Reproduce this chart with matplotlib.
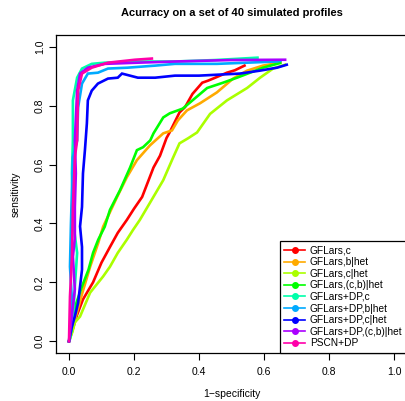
import numpy as np
from matplotlib import pyplot as plt

plt.rcParams['font.family'] = ['Liberation Sans', 'DejaVu Sans']

names = ['GFLars,c', 'GFLars,b|het', 'GFLars,c|het', 'GFLars,(c,b)|het',
         'GFLars+DP,c', 'GFLars+DP,b|het', 'GFLars+DP,c|het',
         'GFLars+DP,(c,b)|het', 'PSCN+DP']
colors = ['#FF0000', '#FFAA00', '#AAFF00', '#00FF00', '#00FFAA',
          '#00AAFF', '#0000FF', '#AA00FF', '#FF00AA']

# 1-specificity / sensitivity
red_x = [0, 0.01, 0.025, 0.043, 0.074, 0.10, 0.126, 0.15, 0.178, 0.20, 0.225, 0.26,
         0.28, 0.30, 0.31, 0.34, 0.357, 0.38, 0.41, 0.428, 0.45, 0.486, 0.51, 0.54]
red_y = [0, 0.035, 0.09, 0.142, 0.2, 0.267, 0.32, 0.368, 0.412, 0.45, 0.49, 0.59,
         0.63, 0.69, 0.71, 0.777, 0.795, 0.84, 0.878, 0.885, 0.895, 0.912, 0.92, 0.936]

orange_x = [0, 0.01, 0.02, 0.04, 0.065, 0.09, 0.105, 0.148, 0.178, 0.209, 0.249, 0.29,
            0.317, 0.335, 0.363, 0.403, 0.455, 0.505, 0.548, 0.597, 0.628, 0.65]
orange_y = [0, 0.04, 0.08, 0.16, 0.253, 0.334, 0.389, 0.49, 0.557, 0.615, 0.665, 0.706,
            0.716, 0.75, 0.784, 0.808, 0.845, 0.892, 0.919, 0.936, 0.942, 0.948]

lime_x = [0, 0.01, 0.018, 0.034, 0.065, 0.105, 0.126, 0.15, 0.178, 0.197, 0.218, 0.249,
          0.29, 0.32, 0.34, 0.366, 0.394, 0.434, 0.486, 0.548, 0.588, 0.628, 0.665]
lime_y = [0, 0.03, 0.064, 0.084, 0.165, 0.22, 0.253, 0.30, 0.345, 0.378, 0.412, 0.47,
          0.547, 0.623, 0.672, 0.689, 0.709, 0.772, 0.818, 0.86, 0.895, 0.926, 0.939]

green_x = [0, 0.008, 0.018, 0.04, 0.06, 0.074, 0.09, 0.11, 0.126, 0.157, 0.188, 0.209,
           0.228, 0.25, 0.26, 0.29, 0.31, 0.35, 0.38, 0.425, 0.474, 0.517, 0.557,
           0.597, 0.64, 0.65]
green_y = [0, 0.04, 0.115, 0.186, 0.243, 0.30, 0.345, 0.389, 0.446, 0.513, 0.59, 0.649,
           0.659, 0.682, 0.706, 0.76, 0.774, 0.79, 0.818, 0.86, 0.878, 0.895, 0.912,
           0.929, 0.942, 0.945]

aqua_x = [0, 0.003, 0.012, 0.018, 0.025, 0.018, 0.012, 0.012, 0.009, 0.012, 0.012,
          0.025, 0.04, 0.07, 0.11, 0.212, 0.326, 0.45, 0.58]
aqua_y = [0, 0.007, 0.074, 0.186, 0.30, 0.36, 0.42, 0.456, 0.57, 0.682, 0.818,
          0.895, 0.926, 0.942, 0.946, 0.95, 0.95, 0.955, 0.963]

sky_x = [0, 0.004, 0.009, 0.003, 0.006, 0.009, 0.012, 0.025, 0.028, 0.04, 0.058,
         0.089, 0.12, 0.18, 0.265, 0.326, 0.455, 0.64, 0.65]
sky_y = [0, 0.05, 0.142, 0.253, 0.40, 0.513, 0.625, 0.682, 0.794, 0.875, 0.909,
         0.912, 0.926, 0.929, 0.936, 0.942, 0.942, 0.95, 0.952]

blue_x = [0, 0.009, 0.018, 0.028, 0.034, 0.04, 0.04, 0.034, 0.04, 0.043, 0.049, 0.055,
          0.058, 0.07, 0.089, 0.12, 0.15, 0.163, 0.212, 0.265, 0.326, 0.40, 0.526,
          0.588, 0.64, 0.67]
blue_y = [0, 0.05, 0.084, 0.13, 0.186, 0.243, 0.32, 0.39, 0.456, 0.57, 0.649, 0.74,
          0.818, 0.851, 0.875, 0.892, 0.895, 0.909, 0.895, 0.895, 0.902, 0.902, 0.909,
          0.919, 0.929, 0.939]

purple_x = [0, 0.008, 0.018, 0.012, 0.018, 0.018, 0.021, 0.018, 0.025, 0.034, 0.058,
            0.11, 0.212, 0.326, 0.5, 0.665]
purple_y = [0, 0.08, 0.176, 0.287, 0.35, 0.456, 0.57, 0.682, 0.851, 0.909, 0.929,
            0.942, 0.946, 0.95, 0.955, 0.956]

pink_x = [0, 0.003, 0.009, 0.012, 0.018, 0.025, 0.028, 0.04, 0.07, 0.12, 0.203, 0.255]
pink_y = [0, 0.152, 0.287, 0.456, 0.625, 0.682, 0.851, 0.909, 0.929, 0.946, 0.956, 0.96]

curves = [(red_x, red_y), (orange_x, orange_y), (lime_x, lime_y), (green_x, green_y),
          (aqua_x, aqua_y), (sky_x, sky_y), (blue_x, blue_y), (purple_x, purple_y),
          (pink_x, pink_y)]

fig = plt.figure(figsize=(4.06, 4.01), dpi=100)
ax = fig.add_axes([56 / 406, 48 / 401, 351 / 406, 318 / 401])

for (x, y), c in zip(curves, colors):
    ax.plot(x, y, color=c, linewidth=1.9, solid_joinstyle='miter')

ax.set_xlim(-0.04, 1.04)
ax.set_ylim(-0.04, 1.04)
ticks = np.arange(0, 1.01, 0.2)
ax.set_xticks(ticks)
ax.set_yticks(ticks)
ax.set_xticklabels(['%.1f' % t for t in ticks])
ax.set_yticklabels(['%.1f' % t for t in ticks], rotation=90, va='center')
ax.tick_params(direction='out', length=5, width=0.8, labelsize=7.5)
ax.tick_params(axis='x', pad=5)
ax.tick_params(axis='y', pad=3)
for s in ax.spines.values():
    s.set_linewidth(0.9)

ax.set_xlabel('1\u2212specificity', fontsize=7.5, labelpad=9)
ax.set_ylabel('sensitivity', fontsize=7.5, labelpad=10)
ax.set_title('Acurracy on a set of 40 simulated profiles', fontsize=8,
             fontweight='bold', pad=14)

handles = [plt.Line2D([], [], color=c, linewidth=1.2, marker='o', markersize=4)
           for c in colors]
leg = ax.legend(handles, names, loc='lower right', bbox_to_anchor=(1.0, 0.0),
                borderaxespad=0, fontsize=7.3, fancybox=False, framealpha=1,
                edgecolor='black', labelspacing=0.16, handlelength=2.0,
                handletextpad=0.5, borderpad=0.45)
leg.get_frame().set_linewidth(0.9)

plt.savefig('out.png', dpi=100)
